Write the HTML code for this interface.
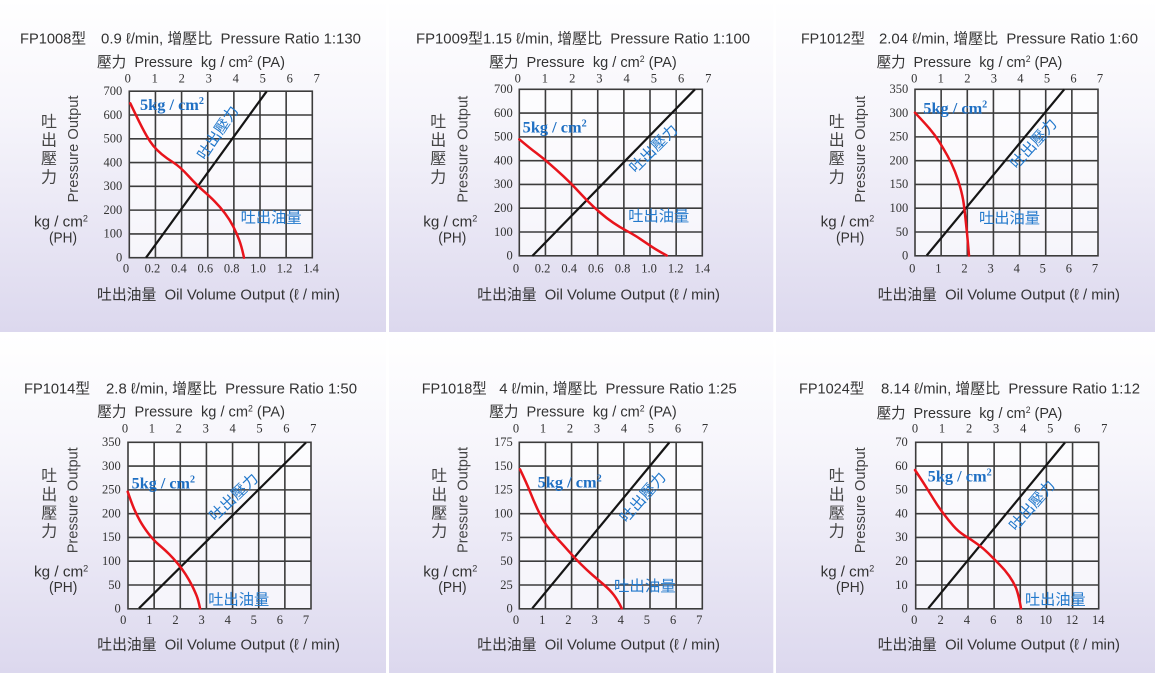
<!DOCTYPE html>
<html><head><meta charset="utf-8"><style>
html,body{margin:0;padding:0;background:#fff;}
svg{display:block;}
.t{font-family:"Liberation Sans","Noto Sans CJK TC",sans-serif;font-size:15px;fill:#333;white-space:pre;}
.v{font-family:"Liberation Sans","Noto Sans CJK TC",sans-serif;font-size:16px;fill:#444;text-anchor:middle;}
.po{font-family:"Liberation Sans",sans-serif;font-size:15px;fill:#444;text-anchor:middle;}
.n{font-family:"Liberation Serif",serif;font-size:12.5px;fill:#333;text-anchor:middle;}
.ny{font-family:"Liberation Serif",serif;font-size:12.5px;fill:#333;text-anchor:end;}
.b5{font-family:"Liberation Serif",serif;font-size:16px;font-weight:bold;fill:#1e6fc3;}
.bl{font-family:"Liberation Sans","Noto Sans CJK TC",sans-serif;font-size:15px;fill:#2379cc;}
.red{fill:none;stroke:#e8141c;stroke-width:2.5;stroke-linejoin:round;stroke-linecap:round;}
.blk{stroke:#151515;stroke-width:2.2;}
</style></head><body>
<svg width="1160" height="675" viewBox="0 0 1160 675" xmlns="http://www.w3.org/2000/svg">
<defs>
<linearGradient id="bg" x1="0" y1="0" x2="0" y2="1">
<stop offset="0" stop-color="#ffffff"/><stop offset="0.35" stop-color="#f6f5fb"/><stop offset="1" stop-color="#dcd8ee"/>
</linearGradient>
<g id="grid">
<rect x="0" y="0" width="183" height="166.5" fill="#ffffff" fill-opacity="0.65"/>
<g stroke="#3c3c3c" stroke-width="1.6" fill="none">
<rect x="0" y="0" width="183" height="166.5"/>
<line x1="26.14" y1="0" x2="26.14" y2="166.5"/><line x1="52.29" y1="0" x2="52.29" y2="166.5"/>
<line x1="78.43" y1="0" x2="78.43" y2="166.5"/><line x1="104.57" y1="0" x2="104.57" y2="166.5"/>
<line x1="130.71" y1="0" x2="130.71" y2="166.5"/><line x1="156.86" y1="0" x2="156.86" y2="166.5"/>
<line x1="0" y1="23.79" x2="183" y2="23.79"/><line x1="0" y1="47.57" x2="183" y2="47.57"/>
<line x1="0" y1="71.36" x2="183" y2="71.36"/><line x1="0" y1="95.14" x2="183" y2="95.14"/>
<line x1="0" y1="118.93" x2="183" y2="118.93"/><line x1="0" y1="142.71" x2="183" y2="142.71"/>
</g>
</g>
</defs>

<!-- backgrounds -->
<rect x="0" y="0" width="386" height="332" fill="url(#bg)"/>
<rect x="389" y="0" width="384.3" height="332" fill="url(#bg)"/>
<rect x="776" y="0" width="379" height="332" fill="url(#bg)"/>
<rect x="0" y="335" width="386" height="338" fill="url(#bg)"/>
<rect x="389" y="335" width="384.3" height="338" fill="url(#bg)"/>
<rect x="776" y="335" width="379" height="338" fill="url(#bg)"/>

<!-- grids -->
<use href="#grid" x="129.3" y="91.2"/>
<use href="#grid" x="519.3" y="89.3"/>
<use href="#grid" x="915" y="89.3"/>
<use href="#grid" x="128" y="442.3"/>
<use href="#grid" x="519.3" y="442.3"/>
<use href="#grid" x="915.7" y="442.3"/>

<!-- ===== Panel 1 ===== -->
<text class="t" x="20" y="43.5" textLength="66" lengthAdjust="spacingAndGlyphs">FP1008型</text>
<text class="t" x="101" y="43.5" textLength="260" lengthAdjust="spacingAndGlyphs">0.9 ℓ/min, 增壓比  Pressure Ratio 1:130</text>
<text class="t" x="97" y="67" textLength="188" lengthAdjust="spacingAndGlyphs">壓力  Pressure  kg / cm<tspan font-size="9" dy="-5">2</tspan><tspan dy="5"> (PA)</tspan></text>
<g class="n"><text x="127.7" y="82.3">0</text><text x="154.7" y="82.3">1</text><text x="181.7" y="82.3">2</text><text x="208.7" y="82.3">3</text><text x="235.7" y="82.3">4</text><text x="262.7" y="82.3">5</text><text x="289.7" y="82.3">6</text><text x="316.7" y="82.3">7</text></g>
<g class="ny"><text x="122.3" y="95">700</text><text x="122.3" y="118.8">600</text><text x="122.3" y="142.6">500</text><text x="122.3" y="166.4">400</text><text x="122.3" y="190.1">300</text><text x="122.3" y="213.9">200</text><text x="122.3" y="237.7">100</text><text x="122.3" y="261.5">0</text></g>
<g class="n"><text x="126" y="272.5">0</text><text x="152.4" y="272.5">0.2</text><text x="178.9" y="272.5">0.4</text><text x="205.3" y="272.5">0.6</text><text x="231.7" y="272.5">0.8</text><text x="258.1" y="272.5">1.0</text><text x="284.6" y="272.5">1.2</text><text x="311" y="272.5">1.4</text></g>
<text class="t" x="97" y="299.5" textLength="243" lengthAdjust="spacingAndGlyphs">吐出油量  Oil Volume Output (ℓ / min)</text>
<g class="v"><text x="49" y="127">吐</text><text x="49" y="145.5">出</text><text x="49" y="164">壓</text><text x="49" y="182.5">力</text></g>
<text class="po" transform="translate(78,149) rotate(-90)" textLength="107" lengthAdjust="spacingAndGlyphs">Pressure Output</text>
<text class="t" x="34" y="226.7" textLength="54" lengthAdjust="spacingAndGlyphs">kg / cm<tspan font-size="9" dy="-5">2</tspan></text>
<text class="t" x="49" y="242.5" textLength="28" lengthAdjust="spacingAndGlyphs">(PH)</text>
<line class="blk" x1="146" y1="257.7" x2="266.7" y2="91.3"/>
<path class="red" d="M130.3,103.3 Q136.7,116.7 140,123.35 Q143.3,130 146.65,135.85 Q150,141.7 153.35,145.85 Q156.7,150 161.7,154.15 Q166.7,158.3 173.35,162.5 Q180,166.7 188.35,175.85 Q196.7,185 203.35,190.85 Q210,196.7 215,201.7 Q220,206.7 225,213.35 Q230,220 233.35,226.65 Q236.7,233.3 239.2,240 Q241.7,246.7 244,257.7"/>
<text class="b5" x="140" y="110" textLength="64" lengthAdjust="spacingAndGlyphs">5kg / cm<tspan font-size="10" dy="-6">2</tspan></text>
<text class="bl" x="240.7" y="222.5" textLength="61" lengthAdjust="spacingAndGlyphs">吐出油量</text>
<text class="bl" text-anchor="middle" dominant-baseline="central" transform="translate(218.3,133) rotate(-56)" textLength="61" lengthAdjust="spacingAndGlyphs">吐出壓力</text>

<!-- ===== Panel 2 ===== -->
<text class="t" x="416" y="43.5" textLength="334" lengthAdjust="spacingAndGlyphs">FP1009型1.15 ℓ/min, 增壓比  Pressure Ratio 1:100</text>
<text class="t" x="489.3" y="67" textLength="187.4" lengthAdjust="spacingAndGlyphs">壓力  Pressure  kg / cm<tspan font-size="9" dy="-5">2</tspan><tspan dy="5"> (PA)</tspan></text>
<g class="n"><text x="517.7" y="82.3">0</text><text x="544.9" y="82.3">1</text><text x="572.2" y="82.3">2</text><text x="599.4" y="82.3">3</text><text x="626.6" y="82.3">4</text><text x="653.9" y="82.3">5</text><text x="681.1" y="82.3">6</text><text x="708.3" y="82.3">7</text></g>
<g class="ny"><text x="512.7" y="93.1">700</text><text x="512.7" y="116.9">600</text><text x="512.7" y="140.7">500</text><text x="512.7" y="164.5">400</text><text x="512.7" y="188.2">300</text><text x="512.7" y="212">200</text><text x="512.7" y="235.8">100</text><text x="512.7" y="259.6">0</text></g>
<g class="n"><text x="516" y="272.5">0</text><text x="542.6" y="272.5">0.2</text><text x="569.2" y="272.5">0.4</text><text x="595.8" y="272.5">0.6</text><text x="622.5" y="272.5">0.8</text><text x="649.1" y="272.5">1.0</text><text x="675.7" y="272.5">1.2</text><text x="702.3" y="272.5">1.4</text></g>
<text class="t" x="477.3" y="299.5" textLength="242.7" lengthAdjust="spacingAndGlyphs">吐出油量  Oil Volume Output (ℓ / min)</text>
<g class="v"><text x="438.3" y="127">吐</text><text x="438.3" y="145.5">出</text><text x="438.3" y="164">壓</text><text x="438.3" y="182.5">力</text></g>
<text class="po" transform="translate(467.3,149.3) rotate(-90)" textLength="107" lengthAdjust="spacingAndGlyphs">Pressure Output</text>
<text class="t" x="423.3" y="226.7" textLength="54" lengthAdjust="spacingAndGlyphs">kg / cm<tspan font-size="9" dy="-5">2</tspan></text>
<text class="t" x="438.3" y="242.5" textLength="28" lengthAdjust="spacingAndGlyphs">(PH)</text>
<line class="blk" x1="532.3" y1="256" x2="695" y2="89.3"/>
<path class="red" d="M519.3,139.3 Q530,148.3 536.65,153.3 Q543.3,158.3 550,164.15 Q556.7,170 563.35,176.15 Q570,182.3 575.85,188.65 Q581.7,195 587.5,200.85 Q593.3,206.7 600,212.5 Q606.7,218.3 613.35,222.8 Q620,227.3 626.65,230.8 Q633.3,234.3 640,238.8 Q646.7,243.3 651.7,246.65 Q656.7,250 666.7,255.5"/>
<text class="b5" x="522.7" y="132.3" textLength="64" lengthAdjust="spacingAndGlyphs">5kg / cm<tspan font-size="10" dy="-6">2</tspan></text>
<text class="bl" x="628.3" y="221" textLength="61" lengthAdjust="spacingAndGlyphs">吐出油量</text>
<text class="bl" text-anchor="middle" dominant-baseline="central" transform="translate(654,149) rotate(-45)" textLength="61" lengthAdjust="spacingAndGlyphs">吐出壓力</text>

<!-- ===== Panel 3 ===== -->
<text class="t" x="801" y="43.5" textLength="64" lengthAdjust="spacingAndGlyphs">FP1012型</text>
<text class="t" x="879" y="43.5" textLength="259" lengthAdjust="spacingAndGlyphs">2.04 ℓ/min, 增壓比  Pressure Ratio 1:60</text>
<text class="t" x="876.7" y="67" textLength="185.6" lengthAdjust="spacingAndGlyphs">壓力  Pressure  kg / cm<tspan font-size="9" dy="-5">2</tspan><tspan dy="5"> (PA)</tspan></text>
<g class="n"><text x="914.3" y="82.3">0</text><text x="940.8" y="82.3">1</text><text x="967.4" y="82.3">2</text><text x="993.9" y="82.3">3</text><text x="1020.4" y="82.3">4</text><text x="1047" y="82.3">5</text><text x="1073.5" y="82.3">6</text><text x="1100" y="82.3">7</text></g>
<g class="ny"><text x="908.3" y="93.1">350</text><text x="908.3" y="116.9">300</text><text x="908.3" y="140.7">250</text><text x="908.3" y="164.5">200</text><text x="908.3" y="188.2">150</text><text x="908.3" y="212">100</text><text x="908.3" y="235.8">50</text><text x="908.3" y="259.6">0</text></g>
<g class="n"><text x="912.3" y="272.5">0</text><text x="938.4" y="272.5">1</text><text x="964.5" y="272.5">2</text><text x="990.6" y="272.5">3</text><text x="1016.7" y="272.5">4</text><text x="1042.8" y="272.5">5</text><text x="1068.9" y="272.5">6</text><text x="1095" y="272.5">7</text></g>
<text class="t" x="877.7" y="299.5" textLength="242.3" lengthAdjust="spacingAndGlyphs">吐出油量  Oil Volume Output (ℓ / min)</text>
<g class="v"><text x="836.7" y="127">吐</text><text x="836.7" y="145.5">出</text><text x="836.7" y="164">壓</text><text x="836.7" y="182.5">力</text></g>
<text class="po" transform="translate(865,149.3) rotate(-90)" textLength="107" lengthAdjust="spacingAndGlyphs">Pressure Output</text>
<text class="t" x="820.7" y="226.7" textLength="53.6" lengthAdjust="spacingAndGlyphs">kg / cm<tspan font-size="9" dy="-5">2</tspan></text>
<text class="t" x="836" y="242.5" textLength="28.3" lengthAdjust="spacingAndGlyphs">(PH)</text>
<line class="blk" x1="926.7" y1="255.5" x2="1064.3" y2="89.3"/>
<path class="red" d="M915,112.7 Q925,123.3 930,129.15 Q935,135 939.15,141.65 Q943.3,148.3 947.5,155.8 Q951.7,163.3 955,171.65 Q958.3,180 960.5,188.35 Q962.7,196.7 963.5,202.2 Q964.3,207.7 965.15,215.5 Q966,223.3 966.85,231.65 Q967.7,240 969,255.5"/>
<text class="b5" x="923.3" y="113.3" textLength="64" lengthAdjust="spacingAndGlyphs">5kg / cm<tspan font-size="10" dy="-6">2</tspan></text>
<text class="bl" x="979" y="223" textLength="61" lengthAdjust="spacingAndGlyphs">吐出油量</text>
<text class="bl" text-anchor="middle" dominant-baseline="central" transform="translate(1034,144) rotate(-48)" textLength="61" lengthAdjust="spacingAndGlyphs">吐出壓力</text>

<!-- ===== Panel 4 ===== -->
<text class="t" x="24" y="393.3" textLength="66" lengthAdjust="spacingAndGlyphs">FP1014型</text>
<text class="t" x="106" y="393.3" textLength="251" lengthAdjust="spacingAndGlyphs">2.8 ℓ/min, 增壓比  Pressure Ratio 1:50</text>
<text class="t" x="97.3" y="416.7" textLength="187.7" lengthAdjust="spacingAndGlyphs">壓力  Pressure  kg / cm<tspan font-size="9" dy="-5">2</tspan><tspan dy="5"> (PA)</tspan></text>
<g class="n"><text x="125" y="432.7">0</text><text x="151.9" y="432.7">1</text><text x="178.8" y="432.7">2</text><text x="205.7" y="432.7">3</text><text x="232.6" y="432.7">4</text><text x="259.5" y="432.7">5</text><text x="286.4" y="432.7">6</text><text x="313.3" y="432.7">7</text></g>
<g class="ny"><text x="120.7" y="446.1">350</text><text x="120.7" y="469.9">300</text><text x="120.7" y="493.7">250</text><text x="120.7" y="517.5">200</text><text x="120.7" y="541.2">150</text><text x="120.7" y="565">100</text><text x="120.7" y="588.8">50</text><text x="120.7" y="612.6">0</text></g>
<g class="n"><text x="123.3" y="624">0</text><text x="149.4" y="624">1</text><text x="175.5" y="624">2</text><text x="201.6" y="624">3</text><text x="227.7" y="624">4</text><text x="253.8" y="624">5</text><text x="279.9" y="624">6</text><text x="306" y="624">7</text></g>
<text class="t" x="97.3" y="649.3" textLength="242.7" lengthAdjust="spacingAndGlyphs">吐出油量  Oil Volume Output (ℓ / min)</text>
<g class="v"><text x="49.3" y="481">吐</text><text x="49.3" y="500">出</text><text x="49.3" y="518.5">壓</text><text x="49.3" y="536.5">力</text></g>
<text class="po" transform="translate(77.5,500.3) rotate(-90)" textLength="106" lengthAdjust="spacingAndGlyphs">Pressure Output</text>
<text class="t" x="34" y="576.7" textLength="54.3" lengthAdjust="spacingAndGlyphs">kg / cm<tspan font-size="9" dy="-5">2</tspan></text>
<text class="t" x="49" y="592" textLength="28.3" lengthAdjust="spacingAndGlyphs">(PH)</text>
<line class="blk" x1="139" y1="608.3" x2="306" y2="442.5"/>
<path class="red" d="M127.7,491.7 Q131.7,503.3 134.2,509.15 Q136.7,515 140,520.85 Q143.3,526.7 148.3,533.35 Q153.3,540 159.15,545 Q165,550 169.15,554.15 Q173.3,558.3 177.5,563.3 Q181.7,568.3 185.5,574.15 Q189.3,580 192.15,585.85 Q195,591.7 196.65,595.85 Q198.3,600 200,608.3"/>
<text class="b5" x="131.7" y="488.3" textLength="63.3" lengthAdjust="spacingAndGlyphs">5kg / cm<tspan font-size="10" dy="-6">2</tspan></text>
<text class="bl" x="208.3" y="604.5" textLength="61" lengthAdjust="spacingAndGlyphs">吐出油量</text>
<text class="bl" text-anchor="middle" dominant-baseline="central" transform="translate(234,497.5) rotate(-44)" textLength="61" lengthAdjust="spacingAndGlyphs">吐出壓力</text>

<!-- ===== Panel 5 ===== -->
<text class="t" x="421.7" y="393.3" textLength="65" lengthAdjust="spacingAndGlyphs">FP1018型</text>
<text class="t" x="499.3" y="393.3" textLength="237.4" lengthAdjust="spacingAndGlyphs">4 ℓ/min, 增壓比  Pressure Ratio 1:25</text>
<text class="t" x="489.3" y="416.7" textLength="187.4" lengthAdjust="spacingAndGlyphs">壓力  Pressure  kg / cm<tspan font-size="9" dy="-5">2</tspan><tspan dy="5"> (PA)</tspan></text>
<g class="n"><text x="516" y="432.7">0</text><text x="543" y="432.7">1</text><text x="570" y="432.7">2</text><text x="597" y="432.7">3</text><text x="624" y="432.7">4</text><text x="651" y="432.7">5</text><text x="678" y="432.7">6</text><text x="705" y="432.7">7</text></g>
<g class="ny"><text x="512.7" y="446.1">175</text><text x="512.7" y="469.9">150</text><text x="512.7" y="493.7">125</text><text x="512.7" y="517.5">100</text><text x="512.7" y="541.2">75</text><text x="512.7" y="565">50</text><text x="512.7" y="588.8">25</text><text x="512.7" y="612.6">0</text></g>
<g class="n"><text x="516" y="624">0</text><text x="542.2" y="624">1</text><text x="568.4" y="624">2</text><text x="594.6" y="624">3</text><text x="620.7" y="624">4</text><text x="646.9" y="624">5</text><text x="673.1" y="624">6</text><text x="699.3" y="624">7</text></g>
<text class="t" x="477.3" y="649.3" textLength="242.7" lengthAdjust="spacingAndGlyphs">吐出油量  Oil Volume Output (ℓ / min)</text>
<g class="v"><text x="439.3" y="481">吐</text><text x="439.3" y="500">出</text><text x="439.3" y="518.5">壓</text><text x="439.3" y="536.5">力</text></g>
<text class="po" transform="translate(467.3,500) rotate(-90)" textLength="106" lengthAdjust="spacingAndGlyphs">Pressure Output</text>
<text class="t" x="423.3" y="576.7" textLength="54" lengthAdjust="spacingAndGlyphs">kg / cm<tspan font-size="9" dy="-5">2</tspan></text>
<text class="t" x="438.3" y="592" textLength="28.3" lengthAdjust="spacingAndGlyphs">(PH)</text>
<line class="blk" x1="532.3" y1="608.3" x2="669.3" y2="442.5"/>
<path class="red" d="M520,469.3 Q526.7,483.3 530,491.65 Q533.3,500 537.5,509.15 Q541.7,518.3 546.7,525.5 Q551.7,532.7 557.5,538.85 Q563.3,545 569.15,551.65 Q575,558.3 580.85,564.15 Q586.7,570 592.5,575 Q598.3,580 604.15,585 Q610,590 613.85,595 Q617.7,600 621.7,608.3"/>
<text class="b5" x="537.7" y="487.7" textLength="64" lengthAdjust="spacingAndGlyphs">5kg / cm<tspan font-size="10" dy="-6">2</tspan></text>
<text class="bl" x="614" y="591.2" textLength="61.7" lengthAdjust="spacingAndGlyphs">吐出油量</text>
<text class="bl" text-anchor="middle" dominant-baseline="central" transform="translate(643.3,497.5) rotate(-49)" textLength="61" lengthAdjust="spacingAndGlyphs">吐出壓力</text>

<!-- ===== Panel 6 ===== -->
<text class="t" x="799" y="393.3" textLength="65.3" lengthAdjust="spacingAndGlyphs">FP1024型</text>
<text class="t" x="881" y="393.3" textLength="259" lengthAdjust="spacingAndGlyphs">8.14 ℓ/min, 增壓比  Pressure Ratio 1:12</text>
<text class="t" x="876.7" y="418" textLength="185.6" lengthAdjust="spacingAndGlyphs">壓力  Pressure  kg / cm<tspan font-size="9" dy="-5">2</tspan><tspan dy="5"> (PA)</tspan></text>
<g class="n"><text x="915" y="432.7">0</text><text x="942" y="432.7">1</text><text x="969.1" y="432.7">2</text><text x="996.1" y="432.7">3</text><text x="1023.2" y="432.7">4</text><text x="1050.2" y="432.7">5</text><text x="1077.3" y="432.7">6</text><text x="1104.3" y="432.7">7</text></g>
<g class="ny"><text x="907.7" y="446.1">70</text><text x="907.7" y="469.9">60</text><text x="907.7" y="493.7">50</text><text x="907.7" y="517.5">40</text><text x="907.7" y="541.2">30</text><text x="907.7" y="565">20</text><text x="907.7" y="588.8">10</text><text x="907.7" y="612.6">0</text></g>
<g class="n"><text x="914.3" y="624">0</text><text x="940.6" y="624">2</text><text x="966.9" y="624">4</text><text x="993.2" y="624">6</text><text x="1019.4" y="624">8</text><text x="1045.7" y="624">10</text><text x="1072" y="624">12</text><text x="1098.3" y="624">14</text></g>
<text class="t" x="877.7" y="649.3" textLength="242.3" lengthAdjust="spacingAndGlyphs">吐出油量  Oil Volume Output (ℓ / min)</text>
<g class="v"><text x="836.7" y="481">吐</text><text x="836.7" y="500">出</text><text x="836.7" y="518.5">壓</text><text x="836.7" y="536.5">力</text></g>
<text class="po" transform="translate(865,500.3) rotate(-90)" textLength="106" lengthAdjust="spacingAndGlyphs">Pressure Output</text>
<text class="t" x="820.7" y="576.7" textLength="53.6" lengthAdjust="spacingAndGlyphs">kg / cm<tspan font-size="9" dy="-5">2</tspan></text>
<text class="t" x="836" y="592" textLength="28.3" lengthAdjust="spacingAndGlyphs">(PH)</text>
<line class="blk" x1="928.3" y1="608.3" x2="1065" y2="442.5"/>
<path class="red" d="M915,470 Q921.7,480 925.85,486.65 Q930,493.3 934.15,500 Q938.3,506.7 943.3,513.35 Q948.3,520 953.3,525.85 Q958.3,531.7 965,535.85 Q971.7,540 977.5,544.15 Q983.3,548.3 988.3,553.3 Q993.3,558.3 999.15,564.15 Q1005,570 1009.15,575.85 Q1013.3,581.7 1015.8,587.5 Q1018.3,593.3 1021,608.3"/>
<text class="b5" x="927.7" y="481.7" textLength="64" lengthAdjust="spacingAndGlyphs">5kg / cm<tspan font-size="10" dy="-6">2</tspan></text>
<text class="bl" x="1025" y="604.5" textLength="60.7" lengthAdjust="spacingAndGlyphs">吐出油量</text>
<text class="bl" text-anchor="middle" dominant-baseline="central" transform="translate(1032.5,505.8) rotate(-49)" textLength="61" lengthAdjust="spacingAndGlyphs">吐出壓力</text>
</svg>
</body></html>
